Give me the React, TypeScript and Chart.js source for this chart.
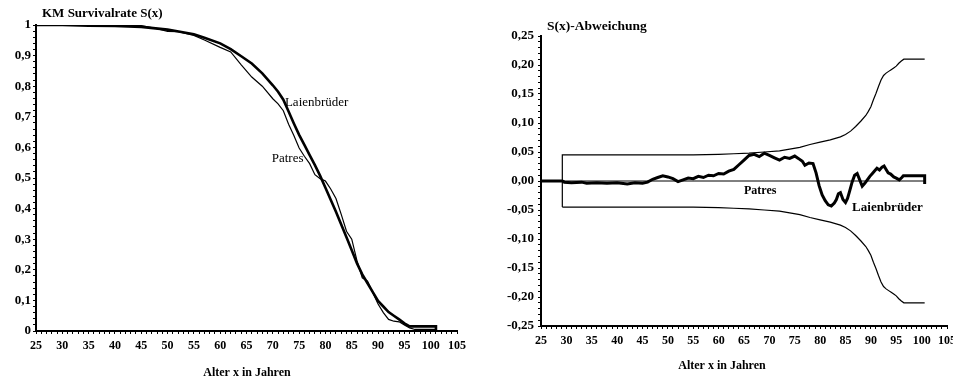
import React, { useEffect, useRef } from "react";
import { Chart, registerables } from "chart.js";
Chart.register(...registerables);

const FONT = "'Liberation Serif', 'Times New Roman', serif";

// ---------- Left chart: Kaplan-Meier survival rate ----------
const laienAges = [25, 30, 35, 40, 45, 50, 55, 57, 60, 62, 64, 66, 68, 70, 71, 72, 73, 74, 75, 76, 77, 78, 79, 80, 81, 82, 83, 84, 85, 86, 87, 88, 89, 90, 91, 92, 93, 94, 95, 96, 101, 101];
const laienSurv = [1.0, 1.0, 0.998, 0.997, 0.994, 0.985, 0.97, 0.958, 0.94, 0.921, 0.898, 0.874, 0.842, 0.803, 0.782, 0.756, 0.717, 0.678, 0.641, 0.608, 0.575, 0.542, 0.507, 0.468, 0.429, 0.39, 0.348, 0.306, 0.264, 0.221, 0.185, 0.156, 0.127, 0.098, 0.08, 0.062, 0.05, 0.038, 0.025, 0.015, 0.015, 0.0];

const patresAges = [25, 30, 35, 40, 45, 48, 50, 52, 55, 57, 60, 62, 64, 66, 68, 70, 71, 72, 73, 74, 75, 76, 77, 78, 79, 80, 81, 82, 83, 84, 85, 86, 87, 88, 89, 90, 91, 92, 93, 94, 95, 96, 97, 101];
const patresSurv = [1.0, 1.0, 1.0, 1.0, 0.998, 0.988, 0.979, 0.978, 0.966, 0.951, 0.927, 0.912, 0.87, 0.83, 0.8, 0.759, 0.742, 0.72, 0.676, 0.639, 0.598, 0.571, 0.547, 0.511, 0.498, 0.49, 0.464, 0.433, 0.381, 0.326, 0.3, 0.229, 0.174, 0.163, 0.125, 0.088, 0.06, 0.038, 0.032, 0.03, 0.02, 0.01, 0.005, 0.005];

// ---------- Right chart: S(x) deviation ----------
const diffAges = [25, 29.2, 29.6, 31, 33, 34, 36, 38, 40, 42, 43.5, 45, 46, 47, 48, 49, 50, 51, 52, 53, 54, 55, 56, 57, 58, 59, 60, 61, 62, 63, 64, 65, 66, 67, 68, 69, 70, 71, 72, 73, 74, 75, 75.7, 76.5, 77, 77.8, 78.6, 79.2, 79.8, 80.4, 81, 81.6, 82.2, 82.8, 83.2, 83.6, 84, 84.5, 85, 85.4, 85.8, 86.3, 86.8, 87.3, 87.8, 88.3, 88.8, 89.3, 89.8, 90.3, 90.8, 91.2, 91.7, 92.2, 92.6, 93, 93.4, 93.9, 94.5, 95, 95.6, 96.1, 96.4, 100.6, 100.6];
const diffValues = [0, 0, -0.002, -0.003, -0.002, -0.004, -0.003, -0.004, -0.003, -0.005, -0.003, -0.004, -0.002, 0.003, 0.006, 0.009, 0.007, 0.004, -0.001, 0.002, 0.005, 0.004, 0.008, 0.006, 0.01, 0.009, 0.013, 0.012, 0.017, 0.02, 0.028, 0.036, 0.044, 0.046, 0.042, 0.048, 0.044, 0.04, 0.036, 0.041, 0.039, 0.043, 0.039, 0.034, 0.027, 0.031, 0.03, 0.014, -0.008, -0.024, -0.034, -0.041, -0.043, -0.038, -0.032, -0.022, -0.02, -0.032, -0.037, -0.03, -0.018, -0.002, 0.01, 0.013, 0.002, -0.009, -0.004, 0.002, 0.008, 0.013, 0.018, 0.022, 0.019, 0.024, 0.026, 0.02, 0.014, 0.012, 0.007, 0.005, 0.002, 0.006, 0.009, 0.009, -0.005];

const refAges = [25, 100.6];
const refValues = [0, 0];

const upperAges = [29.2, 29.2, 45, 55, 60, 63, 66, 69, 72, 74, 76, 78, 80, 82, 84, 85, 86, 87, 88, 89, 89.5, 90, 90.5, 91, 91.5, 92, 92.5, 93, 93.5, 94, 94.5, 95, 95.5, 96, 96.5, 100.6];
const upperValues = [-0.045, 0.045, 0.045, 0.045, 0.046, 0.047, 0.048, 0.05, 0.052, 0.055, 0.058, 0.063, 0.067, 0.071, 0.076, 0.08, 0.086, 0.094, 0.103, 0.113, 0.12, 0.128, 0.14, 0.151, 0.163, 0.174, 0.182, 0.186, 0.189, 0.192, 0.195, 0.198, 0.203, 0.207, 0.21, 0.21];

const lowerAges = [29.2, 45, 55, 60, 63, 66, 69, 72, 74, 76, 78, 80, 82, 84, 85, 86, 87, 88, 89, 89.5, 90, 90.5, 91, 91.5, 92, 92.5, 93, 93.5, 94, 94.5, 95, 95.5, 96, 96.5, 100.6];
const lowerValues = [-0.045, -0.045, -0.045, -0.046, -0.047, -0.048, -0.05, -0.052, -0.055, -0.058, -0.063, -0.067, -0.071, -0.076, -0.08, -0.086, -0.094, -0.103, -0.113, -0.12, -0.128, -0.14, -0.151, -0.163, -0.174, -0.182, -0.186, -0.189, -0.192, -0.195, -0.198, -0.203, -0.207, -0.21, -0.21];

const AGE_MIN = 25;
const AGE_MAX = 105;

const zip = (xs: number[], ys: number[]) => xs.map((x, i) => ({ x, y: ys[i] }));

type TextItem = { text: string; x: number; y: number; align: CanvasTextAlign; weight: string; size: number; data?: boolean };

const textPlugin = (items: TextItem[]) => ({
  id: "texts",
  afterDraw(chart: any) {
    const ctx = chart.ctx;
    ctx.save();
    ctx.fillStyle = "#000";
    ctx.textBaseline = "middle";
    for (const it of items) {
      ctx.font = `${it.weight} ${it.size}px ${FONT}`;
      ctx.textAlign = it.align;
      let px = it.x;
      let py = it.y;
      if (it.data) {
        px = chart.scales.x.getPixelForValue(it.x);
        py = chart.scales.y.getPixelForValue(it.y);
      }
      ctx.fillText(it.text, px, py);
    }
    ctx.restore();
  },
});

const xTickFont = { family: FONT, size: 12, weight: "bold" as const };
const yTickFont = { family: FONT, size: 13, weight: "bold" as const };
const tickGrid = { display: true, drawOnChartArea: false, drawTicks: true, tickLength: 3, tickColor: "#000", tickWidth: 1 };
const axisBorder = { display: true, color: "#000", width: 2 };

function xScale(height: number) {
  return {
    type: "linear" as const,
    min: AGE_MIN,
    max: AGE_MAX,
    afterFit: (s: any) => {
      s.height = height;
      s.paddingLeft = 0;
      s.paddingRight = 0;
    },
    ticks: {
      stepSize: 1,
      autoSkip: false,
      maxRotation: 0,
      minRotation: 0,
      padding: 5,
      color: "#000",
      font: xTickFont,
      callback: (v: any) => (Math.round(v) % 5 === 0 ? String(Math.round(v)) : ""),
    },
    grid: tickGrid,
    border: axisBorder,
  };
}

function LeftChart() {
  const ref = useRef<HTMLCanvasElement>(null);
  useEffect(() => {
    const chart = new Chart(ref.current!, {
      type: "line",
      data: {
        datasets: [
          { label: "Laienbrüder", data: zip(laienAges, laienSurv), borderColor: "#000", borderWidth: 2.6, pointRadius: 0, tension: 0 },
          { label: "Patres", data: zip(patresAges, patresSurv), borderColor: "#000", borderWidth: 1.2, pointRadius: 0, tension: 0 },
        ],
      },
      options: {
        animation: false,
        responsive: false,
        layout: { padding: { top: 25, right: 23, left: 0, bottom: 0 } },
        plugins: { legend: { display: false }, tooltip: { enabled: false } },
        scales: {
          x: xScale(52) as any,
          y: {
            type: "linear",
            min: 0,
            max: 1,
            afterFit: (s: any) => {
              s.width = 36;
              s.paddingTop = 0;
              s.paddingBottom = 0;
            },
            ticks: {
              stepSize: 0.02,
              autoSkip: false,
              padding: 2,
              color: "#000",
              font: yTickFont,
              callback: (v: any) => {
                const n = Math.round(v * 50);
                if (n % 5 !== 0) return "";
                const d = n / 50;
                if (d === 0) return "0";
                if (d === 1) return "1";
                return d.toFixed(1).replace(".", ",");
              },
            },
            grid: tickGrid,
            border: axisBorder,
          } as any,
        },
      },
      plugins: [
        textPlugin([
          { text: "KM Survivalrate S(x)", x: 42, y: 14, align: "left", weight: "bold", size: 13 },
          { text: "Alter x in Jahren", x: 247, y: 373, align: "center", weight: "bold", size: 12 },
          { text: "Laienbrüder", x: 72.3, y: 0.747, align: "left", weight: "normal", size: 13, data: true },
          { text: "Patres", x: 69.8, y: 0.565, align: "left", weight: "normal", size: 13, data: true },
        ]),
      ],
    });
    return () => chart.destroy();
  }, []);
  return <canvas ref={ref} width={480} height={383} style={{ position: "absolute", left: 0, top: 0 }} />;
}

function RightChart() {
  const ref = useRef<HTMLCanvasElement>(null);
  useEffect(() => {
    const thin = { borderColor: "#000", borderWidth: 1.2, pointRadius: 0, tension: 0 };
    const chart = new Chart(ref.current!, {
      type: "line",
      data: {
        datasets: [
          { label: "Patres", data: zip(refAges, refValues), ...thin, borderWidth: 1 },
          { label: "Obere Grenze", data: zip(upperAges, upperValues), ...thin },
          { label: "Untere Grenze", data: zip(lowerAges, lowerValues), ...thin },
          { label: "Laienbrüder", data: zip(diffAges, diffValues), borderColor: "#000", borderWidth: 3, pointRadius: 0, tension: 0 },
        ],
      },
      options: {
        animation: false,
        responsive: false,
        layout: { padding: { top: 36, right: 6, left: 0, bottom: 0 } },
        plugins: { legend: { display: false }, tooltip: { enabled: false } },
        scales: {
          x: xScale(57) as any,
          y: {
            type: "linear",
            min: -0.25,
            max: 0.25,
            afterFit: (s: any) => {
              s.width = 61;
              s.paddingTop = 0;
              s.paddingBottom = 0;
            },
            ticks: {
              stepSize: 0.01,
              autoSkip: false,
              padding: 4,
              color: "#000",
              font: yTickFont,
              callback: (v: any) => {
                const n = Math.round(v * 100);
                if (n % 5 !== 0) return "";
                return (n / 100).toFixed(2).replace(".", ",");
              },
            },
            grid: tickGrid,
            border: axisBorder,
          } as any,
        },
      },
      plugins: [
        textPlugin([
          { text: "S(x)-Abweichung", x: 67, y: 27, align: "left", weight: "bold", size: 13.5 },
          { text: "Alter x in Jahren", x: 242, y: 366, align: "center", weight: "bold", size: 12 },
          { text: "Patres", x: 65, y: -0.017, align: "left", weight: "bold", size: 12, data: true },
          { text: "Laienbrüder", x: 86.3, y: -0.046, align: "left", weight: "bold", size: 13, data: true },
        ]),
      ],
    });
    return () => chart.destroy();
  }, []);
  return <canvas ref={ref} width={473} height={383} style={{ position: "absolute", left: 480, top: 0 }} />;
}

export default function App() {
  return (
    <div style={{ position: "absolute", left: 0, top: 0, width: 953, height: 383, background: "#fff", overflow: "hidden" }}>
      <LeftChart />
      <RightChart />
    </div>
  );
}
